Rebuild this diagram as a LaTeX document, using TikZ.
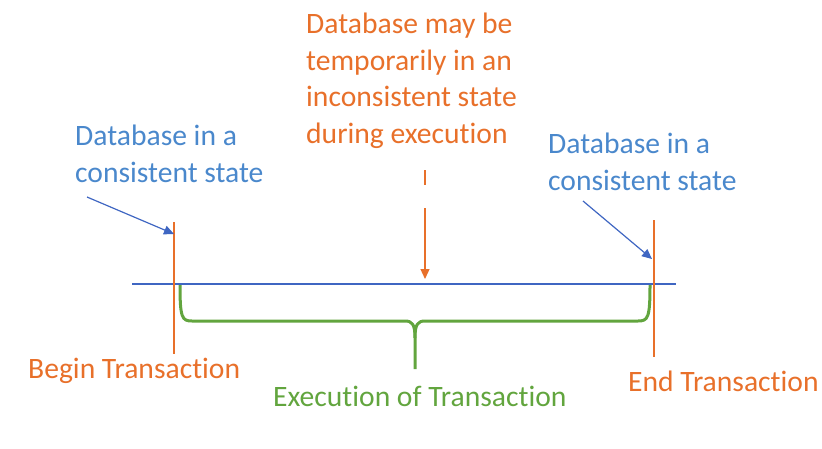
\documentclass[tikz,border=0pt]{standalone}
\usepackage{fontspec}
\setmainfont{Carlito}[Ligatures={NoCommon}]
\usetikzlibrary{arrows.meta}
\definecolor{txtblue}{HTML}{4A88CC}
\definecolor{lineblue}{HTML}{3F66C2}
\definecolor{accorange}{HTML}{E8702A}
\definecolor{accgreen}{HTML}{62A53E}
\tikzset{
  label/.style={inner sep=0pt, anchor=base west, align=left,
    font=\fontsize{29.6}{36.5}\selectfont},
  bluelabel/.style={label, text=txtblue},
  orangelabel/.style={label, text=accorange},
  greenlabel/.style={label, text=accgreen},
  thin line/.style={line width=1.2pt},
  pointer/.style={thin line, -{Triangle[length=10pt,width=9pt]}},
  brace line/.style={accgreen, line width=3pt, line join=round}
}
\begin{document}
\begin{tikzpicture}[x=1pt,y=-1pt]
\useasboundingbox (0,0) rectangle (822,448);

% labels (multi-line nodes are placed by the baseline of their last line)
\node[bluelabel] (lstate) at (75,182) {Database in a\\consistent state};
\node[bluelabel] (rstate) at (548,190) {Database in a\\consistent state};
\node[orangelabel] (mid) at (306,143) {Database may be\\temporarily in an\\inconsistent state\\during execution};
\node[orangelabel] (begin) at (28,378) {Begin Transaction};
\node[orangelabel] (end) at (628,391) {End Transaction};
\node[greenlabel] (exec) at (273,406) {Execution of Transaction};

% time axis
\coordinate (axisL) at (132,284);
\coordinate (axisR) at (676,284);
\draw[lineblue, thin line] (axisL) -- (axisR);

% begin / end markers
\coordinate (bTop) at (174,222);
\coordinate (bBot) at (174,354);
\coordinate (eTop) at (654,220);
\coordinate (eBot) at (654,357);
\draw[accorange, thin line] (bTop) -- (bBot);
\draw[accorange, thin line] (eTop) -- (eBot);

% pointers to the markers
\coordinate (lFrom) at (87,197);
\coordinate (lTo) at (174,234);
\coordinate (rFrom) at (583,201);
\coordinate (rTo) at (652,259);
\draw[lineblue, pointer] (lFrom) -- (lTo);
\draw[lineblue, pointer] (rFrom) -- (rTo);

% pointer from the middle note to the axis
\coordinate (mFrom) at (425,170);
\coordinate (mTo) at (425,279);
\draw[accorange, pointer, dash pattern=on 15pt off 23pt on 90pt] (mFrom) -- (mTo);

% brace under the axis
\coordinate (brL) at (180,285);
\coordinate (brR) at (650,285);
\coordinate (brTip) at (415,369);
\draw[brace line] (brL) .. controls (180,318) and (182,321) .. (192,321)
  -- (405,321) .. controls (412,321) and (415,324) .. (415,338) -- (brTip);
\draw[brace line] (brR) .. controls (650,318) and (648,321) .. (638,321)
  -- (425,321) .. controls (418,321) and (415,324) .. (415,338);
\end{tikzpicture}
\end{document}
